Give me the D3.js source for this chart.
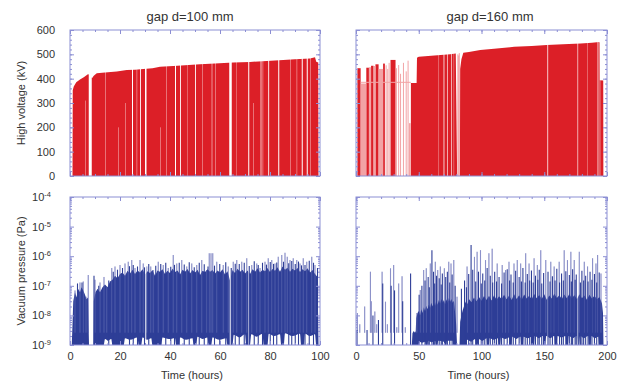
<!DOCTYPE html>
<html>
<head>
<meta charset="utf-8">
<script src="https://cdn.jsdelivr.net/npm/d3@7"></script>
<style>
body { margin: 0; background: #fff; }
</style>
</head>
<body>
<div id="chart"></div>
<script>
// ---- data (time in hours, voltage in kV, pressure in Pa) ----

// gap d=100 mm : high voltage envelope
var hvTop100 = [[1.0, 0], [1.1, 352], [1.5, 368], [2.5, 385], [4, 397], [5.5, 406], [7.3, 419], [8.8, 402], [9.5, 412],
    [10.7, 422], [14, 425], [18.7, 429], [22.7, 436], [26, 437], [29.3, 440], [33, 443], [36, 449], [41.3, 452],
    [46, 455], [52, 459], [58, 462], [65.3, 466], [72, 469], [78.7, 473], [85.3, 477], [90, 480], [96, 483],
    [98, 488], [98.5, 470], [99.3, 466], [99.4, 0]];
// breakdown pauses: [start, duration, top of the gap (null = full height)]
var hvGaps100 = [[6, 0.15, 310], [7.5, 1.2, null], [14, 0.15, null], [19.3, 0.15, 200], [22, 0.15, 300], [24.8, 0.4, null],
    [26.7, 0.15, null], [28, 0.35, null], [30, 0.6, null], [36, 0.15, 200], [38.5, 0.15, null], [42, 0.4, null],
    [44, 0.35, null], [47, 0.12, null], [50, 0.35, null], [53, 0.15, null], [56.7, 0.2, null], [58, 0.15, null],
    [63.7, 1.0, null], [66.5, 0.12, null], [71.3, 0.4, null], [73.3, 0.15, 300], [76, 0.15, null], [76.6, 0.15, null],
    [77.1, 0.15, null], [79.3, 0.35, null], [83.3, 0.4, null], [88, 0.15, null], [90.7, 0.15, null],
    [92.7, 0.4, null], [94.7, 0.4, null], [96, 0.15, null]];

// gap d=160 mm : high voltage
var hvBars160 = [[1.1, 3.7, 443], [8.2, 10.3, 445], [12, 14, 453], [15.5, 18, 459], [21.6, 23, 462], [27.5, 31.5, 477]];
var hvSparse160 = [[3.7, 8.2, 380], [10.3, 12, 447], [14, 15.5, 452], [18, 21.6, 440]];
var hvTrace160 = [[24, 455], [25.3, 440], [26.4, 465], [32.2, 443], [34, 456], [35.5, 420], [37.8, 465], [40, 430],
    [41.5, 474], [42.6, 217], [43.2, 217], [81.2, 500], [81.8, 495], [82.3, 505]];
var hvLevel160 = [[3.7, 385], [43.7, 385]];
var hvTop160 = [[43.7, 0], [43.75, 382], [48.3, 382], [48.6, 486], [50, 490], [55, 492], [60, 494], [65, 496],
    [70, 498], [75, 500], [79.5, 503], [80.6, 0], [82.8, 0], [83, 440], [84, 480], [85.5, 506], [90, 510],
    [99, 518], [110, 523], [126, 531], [140, 534], [152, 538], [165, 541], [179, 545], [188, 548], [193.8, 551],
    [194.2, 548], [194.3, 394], [197, 392], [197.1, 0]];
var hvGaps160 = [[65.9, 0.25, null], [69.8, 0.6, null], [72.5, 0.5, null], [75.7, 0.5, null], [77.9, 0.25, null],
    [152.5, 0.6, null], [176.5, 0.5, null], [184.5, 0.25, null], [192.5, 0.6, null], [194.2, 0.4, null]];

// gap d=100 mm : vacuum pressure
var vacBulk100 = [[0.7, 1e-9], [1, 5e-9], [1.3, 3e-8], [2, 6e-8], [2.6, 4e-8], [3.2, 8e-8], [4, 6e-8], [4.6, 9e-8],
    [5.3, 7e-8], [6, 5e-8], [6.6, 3.5e-8], [7.2, 4e-8], [7.6, 1e-9], [9.3, 1e-9], [9.5, 3e-8], [10.2, 6e-8],
    [11, 8e-8], [12, 6e-8], [13, 9e-8], [14, 1.1e-7], [15, 9e-8], [16, 1.4e-7], [17, 1.6e-7], [18, 2.2e-7],
    [19, 1.8e-7], [20, 2.5e-7], [21, 2.8e-7], [22, 2.2e-7], [23, 3.2e-7], [24, 2.6e-7], [25, 3.5e-7], [26, 2.5e-7],
    [27, 3.3e-7], [28, 2.8e-7], [29, 3.6e-7], [30, 2.4e-7], [31, 3.1e-7], [32, 2.7e-7], [33, 3.4e-7], [34, 2.2e-7],
    [35, 3.3e-7], [36, 3e-7], [37, 3.6e-7], [38, 2.5e-7], [39, 3.2e-7], [40, 2.7e-7], [41, 3.8e-7], [42, 2.9e-7],
    [43, 3.3e-7], [44, 2.4e-7], [45, 3.5e-7], [46, 3e-7], [47, 3.7e-7], [48, 2.6e-7], [49, 3.4e-7], [50, 2.8e-7],
    [51, 3.5e-7], [52, 2.3e-7], [53, 3.2e-7], [54, 2.9e-7], [55, 3.6e-7], [56, 3e-7], [57, 3.4e-7], [58, 2.6e-7],
    [59, 3.3e-7], [60, 2.8e-7], [61, 3.6e-7], [62, 2.4e-7], [63, 3.1e-7], [64, 1.5e-7], [65, 3.4e-7], [66, 2.7e-7],
    [67, 3.8e-7], [68, 3e-7], [69, 3.5e-7], [70, 2.6e-7], [71, 3.3e-7], [72, 2.5e-7], [73, 3.6e-7], [74, 3e-7],
    [75, 3.9e-7], [76, 2.8e-7], [77, 3.5e-7], [78, 3.1e-7], [79, 4e-7], [80, 2.9e-7], [81, 3.7e-7], [82, 3.2e-7],
    [83, 4.2e-7], [84, 3e-7], [85, 4.5e-7], [86, 3.5e-7], [87, 4.1e-7], [88, 3e-7], [89, 3.8e-7], [90, 3.3e-7],
    [91, 4e-7], [92, 2.9e-7], [93, 3.6e-7], [94, 3.1e-7], [95, 3.9e-7], [96, 2.8e-7], [97, 3.4e-7], [98, 2.5e-7],
    [99, 2e-7], [99.4, 1e-9]];
var vacFloor100 = [[0, 1e-9], [13.5, 1e-9], [14, 1.6e-9], [15.2, 1.4e-9], [16.5, 1.6e-9], [17, 1e-9], [21.5, 1e-9],
    [22, 1.7e-9], [24, 1.5e-9], [27, 1.8e-9], [27.5, 1e-9], [28.5, 1e-9], [29, 1.8e-9], [30.8, 1.5e-9],
    [32.5, 1.7e-9], [33, 1e-9], [36.5, 1e-9], [37, 1.8e-9], [39.5, 1.6e-9], [42, 1.7e-9], [42.5, 1e-9],
    [43.5, 1e-9], [44, 1.8e-9], [46.4, 1.5e-9], [49, 1.7e-9], [49.5, 1e-9], [50.5, 1e-9], [51, 1.9e-9],
    [53, 1.6e-9], [55, 1.8e-9], [55.5, 1e-9], [56.5, 1e-9], [57, 1.8e-9], [59.8, 1.5e-9], [62.5, 1.7e-9],
    [63, 1e-9], [65, 1e-9], [65.5, 2.2e-9], [67.8, 1.8e-9], [70, 2.3e-9], [70.5, 1e-9], [72, 1e-9], [72.5, 2.3e-9],
    [74.6, 1.9e-9], [77, 2.4e-9], [77.5, 1e-9], [79, 1e-9], [79.5, 2.4e-9], [81.7, 2e-9], [84, 2.3e-9],
    [84.5, 1e-9], [85.5, 1e-9], [86, 2.5e-9], [89, 2e-9], [92, 2.4e-9], [92.5, 1e-9], [93.5, 1e-9], [94, 2.4e-9],
    [96, 2e-9], [98, 2.3e-9], [98.5, 1e-9], [100, 1e-9]];
var vacGaps100 = [[7.6, 1.7], [30.1, 0.4], [63.9, 0.6], [71.3, 0.4]];
var vacPeaks100 = [[2, 7e-8], [4, 1.3e-7], [5.3, 1.4e-7], [6.4, 4.3e-8], [7.3, 2.3e-7], [10, 1.6e-7], [12, 1.3e-7],
    [13.6, 2e-7], [14.7, 9e-8], [16.7, 4e-7], [18, 4.5e-7], [20, 5e-7], [22, 5.7e-7], [23.3, 6.5e-7], [24.7, 7.4e-7],
    [26, 4e-7], [28, 7.4e-7], [29.3, 5.7e-7], [30.7, 4.5e-7], [32.3, 4.5e-7], [33.3, 3.4e-7], [35.3, 6.5e-7],
    [37.3, 5e-7], [39.3, 4e-7], [41.3, 1.1e-6], [42.7, 5.7e-7], [44.7, 7.4e-7], [46.7, 4.5e-7], [48.7, 5.7e-7],
    [50.7, 5e-7], [52.7, 7.4e-7], [54.7, 3.4e-7], [55.7, 1.25e-6], [56.4, 1.25e-6], [57.1, 1.25e-6], [58.7, 6.5e-7],
    [61.3, 5e-7], [63.3, 4.5e-7], [65.3, 6.5e-7], [66.7, 7.4e-7], [68.7, 6.5e-7], [70.7, 8.5e-7], [72.7, 5e-7],
    [74.7, 5.7e-7], [76, 4e-7], [78, 6.5e-7], [79.3, 8.5e-7], [80.7, 7.4e-7], [82, 5.7e-7], [83.3, 9.5e-7],
    [84.7, 1.1e-6], [86, 1.3e-6], [86.9, 9.5e-7], [88, 7.4e-7], [89.3, 8.5e-7], [90.7, 7.4e-7], [92, 5.7e-7],
    [93.3, 8.5e-7], [94.7, 6.5e-7], [96.7, 9.5e-7], [98, 5e-7]];
var vacSpikes100 = [[3, 1.2e-7], [4.8, 1.3e-7], [9.6, 2.2e-7], [11.5, 1e-7], [15.5, 1.5e-7], [17.3, 3e-7], [19, 3.5e-7],
    [21, 4e-7], [23.8, 4.6e-7], [25.3, 5e-7], [27, 4.5e-7], [29.8, 4.2e-7], [31.5, 5.5e-7], [34.3, 4.8e-7],
    [36.3, 5.5e-7], [38.3, 6e-7], [40.3, 4.4e-7], [41.8, 5.1e-7], [43.7, 6e-7], [45.7, 5.2e-7], [47.7, 6.3e-7],
    [49.7, 4.2e-7], [51.7, 6e-7], [53.7, 5.3e-7], [55.2, 4.5e-7], [57.8, 4.8e-7], [59.9, 5.5e-7], [62.3, 6.2e-7],
    [64.5, 4e-7], [66.1, 5.6e-7], [67.7, 5.4e-7], [69.7, 6e-7], [71.7, 4.7e-7], [73.7, 6.8e-7], [75.3, 5e-7],
    [77, 6e-7], [78.6, 5.2e-7], [80.1, 6.4e-7], [81.4, 5.5e-7], [82.7, 6.1e-7], [85.4, 6.5e-7], [87.5, 5.8e-7],
    [88.7, 6.9e-7], [90.1, 5.4e-7], [91.4, 6.6e-7], [92.6, 4.9e-7], [94, 5e-7], [95.7, 7e-7], [97.4, 6e-7],
    [99, 4e-7]];

// gap d=160 mm : vacuum pressure
var vacBulk160 = [[44.5, 1e-9], [45, 2.5e-9], [46, 3e-9], [47, 2.6e-9], [47.6, 3e-9], [48, 8e-9], [49, 1.2e-8],
    [50, 1.4e-8], [51, 1e-8], [52, 1.6e-8], [53, 1.2e-8], [54, 1.9e-8], [55, 1.4e-8], [56, 2.1e-8], [57, 1.6e-8],
    [58, 2.3e-8], [59, 1.8e-8], [60, 2.7e-8], [61, 2e-8], [62, 2.8e-8], [63, 2.1e-8], [64, 3.1e-8], [65, 2.3e-8],
    [66, 3.3e-8], [67, 2.5e-8], [68, 3.6e-8], [69, 2.7e-8], [70, 3.3e-8], [71, 2.4e-8], [72, 3.5e-8], [73, 2.6e-8],
    [74, 3.9e-8], [75, 2.9e-8], [76, 3.6e-8], [77, 2.7e-8], [78, 3.1e-8], [79, 1.2e-8], [79.8, 5e-9], [80.5, 1e-9],
    [82.5, 1e-9], [83, 6e-9], [84, 1e-8], [85, 1.5e-8], [86, 2e-8], [87, 2.6e-8], [88, 3.2e-8], [89, 2.4e-8],
    [90, 3.6e-8], [92, 2.8e-8], [94, 4e-8], [96, 3e-8], [98, 4.2e-8], [100, 3.1e-8], [102, 4.5e-8], [104, 3.3e-8],
    [106, 4.6e-8], [108, 3.2e-8], [110, 4.8e-8], [112, 3.4e-8], [114, 4.4e-8], [116, 3.6e-8], [118, 5e-8],
    [120, 3.5e-8], [122, 4.7e-8], [124, 3.3e-8], [126, 5.2e-8], [128, 3.6e-8], [130, 4.8e-8], [132, 3.4e-8],
    [134, 5.1e-8], [136, 3.7e-8], [138, 4.6e-8], [140, 3.5e-8], [142, 5.3e-8], [144, 3.8e-8], [146, 4.9e-8],
    [148, 3.6e-8], [150, 5.2e-8], [152, 3.4e-8], [154, 4.7e-8], [156, 3.7e-8], [158, 5.4e-8], [160, 3.9e-8],
    [162, 4.8e-8], [164, 3.6e-8], [166, 5.1e-8], [168, 3.8e-8], [170, 5.3e-8], [172, 3.7e-8], [174, 4.9e-8],
    [176, 3.5e-8], [178, 5.2e-8], [180, 3.8e-8], [182, 4.7e-8], [184, 3.4e-8], [186, 5e-8], [188, 3.7e-8],
    [190, 4.6e-8], [192, 3.5e-8], [194, 4.2e-8], [196, 2.5e-8], [196.8, 1.2e-8], [197.2, 1e-9]];
var vacFloor160 = [[47.5, 1e-9], [50, 1e-9], [50.5, 1.3e-9], [52.8, 1.2e-9], [55, 1.3e-9], [55.5, 1e-9], [57, 1e-9],
    [57.5, 1.4e-9], [60.2, 1.25e-9], [63, 1.4e-9], [63.5, 1e-9], [65, 1e-9], [65.5, 1.4e-9], [70, 1.3e-9],
    [70.5, 1e-9], [72, 1e-9], [72.5, 1.4e-9], [77, 1.4e-9], [77.5, 1e-9], [88, 1e-9], [88.5, 1.5e-9],
    [91.7, 1.3e-9], [95, 1.6e-9], [95.5, 1e-9], [97, 1e-9], [97.5, 1.6e-9], [100.8, 1.4e-9], [104, 1.7e-9],
    [104.5, 1e-9], [106, 1e-9], [106.5, 1.7e-9], [109.7, 1.5e-9], [113, 1.7e-9], [113.5, 1e-9], [115, 1e-9],
    [115.5, 1.8e-9], [118.8, 1.6e-9], [122, 1.8e-9], [122.5, 1e-9], [124, 1e-9], [124.5, 1.9e-9], [127.7, 1.6e-9],
    [131, 1.9e-9], [131.5, 1e-9], [133, 1e-9], [133.5, 1.9e-9], [136.8, 1.7e-9], [140, 1.9e-9], [140.5, 1e-9],
    [142, 1e-9], [142.5, 2e-9], [145.6, 1.7e-9], [149, 2e-9], [149.5, 1e-9], [151, 1e-9], [151.5, 2e-9],
    [154.8, 1.7e-9], [158, 2e-9], [158.5, 1e-9], [160, 1e-9], [160.5, 2e-9], [163.7, 1.8e-9], [167, 2e-9],
    [167.5, 1e-9], [169, 1e-9], [169.5, 2e-9], [172.8, 1.7e-9], [176, 2e-9], [176.5, 1e-9], [178, 1e-9],
    [178.5, 2e-9], [181.6, 1.7e-9], [185, 2e-9], [185.5, 1e-9], [187, 1e-9], [187.5, 2e-9], [190.2, 1.7e-9],
    [193, 1.9e-9], [193.5, 1e-9], [200, 1e-9]];
var vacGaps160 = [[152.5, 0.6], [176.5, 0.5]];
var vacPeaks160 = [[1.1, 1.2e-8], [3, 5e-9], [6.9, 2e-8], [11.5, 3e-7], [12.2, 3e-8], [15, 1.35e-8], [16.5, 5e-9],
    [20.8, 3e-7], [23.5, 2.9e-8], [25, 5e-9], [27.5, 3.9e-7], [30, 5e-7], [32.5, 4e-9], [34, 1.2e-7], [36.7, 2.1e-7],
    [39.3, 4e-9], [48.5, 1.2e-8], [51.2, 7.2e-8], [53.9, 3.4e-7], [56, 3.9e-7], [59.2, 5.7e-7], [63.2, 6.5e-7],
    [65.1, 3.4e-7], [67.2, 4.5e-7], [70.4, 3.9e-7], [73.9, 6.5e-7], [75.7, 5.7e-7], [77.9, 7.4e-7], [80.5, 4.3e-8],
    [88.5, 4.5e-7], [94.4, 9.5e-7], [96.5, 1.4e-6], [99.2, 1.6e-6], [103.2, 7.4e-7], [105.9, 1.26e-6],
    [108.5, 1.8e-6], [112.5, 5.7e-7], [116.5, 5e-7], [119.2, 3.4e-7], [121.9, 6.5e-7], [125.9, 5.7e-7],
    [128.5, 7.4e-7], [131.2, 5.7e-7], [135.2, 1.26e-6], [137.9, 5.7e-7], [141.9, 8.5e-7], [144.5, 5e-7],
    [147.2, 1.6e-6], [151.2, 7.4e-7], [155.2, 6.5e-7], [157.9, 4.5e-7], [161.9, 6.5e-7], [165.9, 1.6e-6],
    [168.5, 7.4e-7], [171.2, 1.4e-6], [173.9, 7.4e-7], [177.9, 1.4e-6], [181.9, 6.5e-7], [184.5, 4.5e-7],
    [188.5, 8.5e-7], [191.2, 5.7e-7], [192.5, 1.1e-6], [195.2, 2.6e-7]];
var vacSpikes160 = [[0.8, 3.2e-9], [8.8, 3.2e-9], [13.5, 1e-8], [17.9, 7e-9], [21.3, 1.2e-7], [28, 1e-7],
    [30.7, 7e-8], [37.2, 3e-8], [43.5, 2.6e-7], [50.3, 5e-8], [52.5, 1e-7], [55, 1.5e-7], [57.5, 2e-7],
    [58.4, 9e-8], [60.5, 1.6e-6], [61.8, 3e-7], [62.7, 1.2e-7], [64.2, 2.2e-7], [66.3, 1.8e-7], [67.9, 1.1e-7],
    [68.8, 2.6e-7], [71.5, 2e-7], [72.8, 3e-7], [74.7, 1.3e-7], [76.6, 2.4e-7], [79, 1e-7], [84, 8e-8],
    [86.5, 1.5e-7], [88, 9e-8], [89.8, 2.5e-7], [91.7, 2.4e-6], [93, 3.5e-7], [95.4, 1.4e-7], [97.6, 3e-7],
    [99.8, 1.2e-7], [101, 2.6e-7], [102.6, 1.5e-7], [104.5, 4e-7], [107, 2.2e-7], [108.9, 1.3e-7], [110.5, 3e-7],
    [112, 1.4e-7], [114, 2e-7], [116, 1.2e-7], [118, 2.8e-7], [120.5, 3.6e-7], [122.4, 1.5e-7], [123.5, 2.4e-7],
    [125.3, 1.3e-7], [127.2, 3.2e-7], [130, 2e-7], [131.8, 1.4e-7], [133, 4e-7], [134.8, 1.3e-7], [136.5, 2.5e-7],
    [138.4, 1.5e-7], [139.8, 3.3e-7], [141.2, 1.3e-7], [143, 2.2e-7], [144.9, 1.6e-7], [146, 3.5e-7],
    [148, 1.2e-7], [149.5, 2.7e-7], [153, 3e-7], [154.6, 1.4e-7], [156.5, 2.1e-7], [158.6, 1.5e-7], [160, 3.8e-7],
    [162.2, 1.3e-7], [163.8, 2.6e-7], [165.2, 1.5e-7], [167.2, 3.1e-7], [170, 2.3e-7], [171.6, 1.4e-7],
    [172.6, 3.6e-7], [174.6, 1.6e-7], [175.5, 2.4e-7], [178.8, 1.3e-7], [180, 3.2e-7], [181.4, 1.5e-7],
    [183, 2.2e-7], [184.9, 1.4e-7], [186.5, 3e-7], [188, 1.6e-7], [190, 2.5e-7], [191.8, 1.3e-7], [193.8, 2.8e-7]];

var hvTicks = [0, 100, 200, 300, 400, 500, 600];
var vacTicks = [1e-9, 1e-8, 1e-7, 1e-6, 1e-5, 1e-4];
var titles = ["gap d=100 mm", "gap d=160 mm"];

// ---- drawing ----
var width = 619, height = 383;
var red = "#dc1f27", pink = "#f2a3a5", blue = "#2e3e97", blueLight = "#8c91c9", frame = "#8c8fd4", ink = "#333";

var svg = d3.select("#chart").append("svg")
    .attr("width", width)
    .attr("height", height)
    .style("font-family", '"Liberation Sans", Arial, sans-serif');

var x100 = d3.scaleLinear().domain([0, 100]).range([70, 320]);
var x160 = d3.scaleLinear().domain([0, 200]).range([356, 607]);
var yHV = d3.scaleLinear().domain([0, 600]).range([176, 30]);
var yVac = d3.scaleLog().domain([1e-9, 1e-4]).range([345, 197]);

var clipN = 0;
function panel(x, y) {
    var id = "clip-" + (clipN++);
    var r = x.range(), ry = y.range();
    svg.append("clipPath").attr("id", id).append("rect")
        .attr("x", r[0]).attr("y", ry[1]).attr("width", r[1] - r[0]).attr("height", ry[0] - ry[1]);
    return svg.append("g").attr("clip-path", "url(#" + id + ")");
}

function drawHV(x, top, gaps) {
    var g = panel(x, yHV);
    var area = d3.area()
        .x(d => x(d[0]))
        .y0(yHV(0))
        .y1(d => yHV(d[1]));
    g.append("path").attr("d", area(top)).attr("fill", red);
    g.selectAll("rect.gap").data(gaps).join("rect")
        .attr("class", "gap")
        .attr("x", d => x(d[0]))
        .attr("width", d => x(d[0] + d[1]) - x(d[0]))
        .attr("y", d => d[2] === null ? yHV(600) : yHV(d[2]))
        .attr("height", d => yHV(0) - (d[2] === null ? yHV(600) : yHV(d[2])))
        .attr("fill", "#fff");
    return g;
}

function drawVac(x, bulk, floor, gaps, peaks, spikes) {
    var g = panel(x, yVac);
    var area = d3.area()
        .x(d => x(d[0]))
        .y0(yVac(1e-9))
        .y1(d => yVac(d[1]));
    var peakLine = sel => sel
        .attr("x1", d => x(d[0])).attr("x2", d => x(d[0]))
        .attr("y1", yVac(2.6e-9)).attr("y2", d => yVac(d[1]));
    g.selectAll("line.peak").data(peaks).join("line")
        .attr("class", "peak").call(peakLine)
        .attr("stroke", blueLight).attr("stroke-width", 1.1);
    g.append("path").attr("d", area(bulk)).attr("fill", blue);
    // the same peaks show faintly as light streaks through the dense part
    g.selectAll("line.streak").data(peaks).join("line")
        .attr("class", "streak").call(peakLine)
        .attr("stroke", blueLight).attr("stroke-width", 0.8).attr("stroke-opacity", 0.45);
    g.append("path").attr("d", area.curve(d3.curveMonotoneX)(floor)).attr("fill", "#fff");
    g.selectAll("rect.gap").data(gaps).join("rect")
        .attr("class", "gap")
        .attr("x", d => x(d[0]))
        .attr("width", d => x(d[0] + d[1]) - x(d[0]))
        .attr("y", yVac(1e-4))
        .attr("height", yVac(1e-9) - yVac(1e-4))
        .attr("fill", "#fff");
    g.selectAll("line.spike").data(spikes).join("line")
        .attr("class", "spike")
        .attr("x1", d => x(d[0])).attr("x2", d => x(d[0]))
        .attr("y1", yVac(1e-9)).attr("y2", d => yVac(d[1]))
        .attr("stroke", blue).attr("stroke-width", 1.1);
    return g;
}

function frameAxes(x, y, xMajor, xMinor, yMajor, yMinor, xLabels, yFormat, yPad) {
    var r = x.range(), ry = y.range();
    var ax = svg.append("g").attr("color", frame);
    var strip = g => g.call(g => g.select(".domain").remove());

    [[d3.axisBottom, ry[0]], [d3.axisTop, ry[1]]].forEach(function (a) {
        ax.append("g").attr("transform", `translate(0,${a[1]})`)
            .call(a[0](x).tickValues(xMinor).tickSize(-2).tickFormat("")).call(strip);
        ax.append("g").attr("transform", `translate(0,${a[1]})`)
            .call(a[0](x).tickValues(xMajor).tickSize(-4).tickFormat("")).call(strip);
    });
    [[d3.axisLeft, r[0]], [d3.axisRight, r[1]]].forEach(function (a) {
        ax.append("g").attr("transform", `translate(${a[1]},0)`)
            .call(a[0](y).tickValues(yMinor).tickSize(-2).tickFormat("")).call(strip);
        ax.append("g").attr("transform", `translate(${a[1]},0)`)
            .call(a[0](y).tickValues(yMajor).tickSize(-4).tickFormat("")).call(strip);
    });
    ax.append("rect")
        .attr("x", r[0]).attr("y", ry[1])
        .attr("width", r[1] - r[0]).attr("height", ry[0] - ry[1])
        .attr("fill", "none").attr("stroke", frame).attr("stroke-width", 1);

    if (xLabels) {
        svg.append("g").attr("transform", `translate(0,${ry[0]})`)
            .call(d3.axisBottom(x).tickValues(xMajor).tickSize(0).tickPadding(7))
            .call(strip)
            .selectAll("text").attr("fill", ink).attr("font-size", 11);
    }
    if (yFormat) {
        var ly = svg.append("g").attr("transform", `translate(${r[0]},0)`)
            .call(d3.axisLeft(y).tickValues(yMajor).tickSize(0).tickPadding(yPad).tickFormat(yFormat === "log" ? () => "" : d3.format("d")))
            .call(strip);
        ly.selectAll("text").attr("fill", ink).attr("font-size", 11);
        if (yFormat === "log") {
            ly.selectAll(".tick text").each(function (d) {
                var t = d3.select(this);
                t.append("tspan").text("10");
                t.append("tspan").attr("dy", "-0.5em").attr("font-size", 7.5).text(Math.round(Math.log10(d)));
            });
        }
    }
}

// top row: high voltage
drawHV(x100, hvTop100, hvGaps100);

var g160 = drawHV(x160, hvTop160, hvGaps160);
g160.selectAll("rect.bar").data(hvBars160).join("rect")
    .attr("class", "bar")
    .attr("x", d => x160(d[0])).attr("width", d => x160(d[1]) - x160(d[0]))
    .attr("y", d => yHV(d[2])).attr("height", d => yHV(0) - yHV(d[2]))
    .attr("fill", red);
g160.selectAll("rect.sparse").data(hvSparse160).join("rect")
    .attr("class", "sparse")
    .attr("x", d => x160(d[0])).attr("width", d => x160(d[1]) - x160(d[0]))
    .attr("y", d => yHV(d[2])).attr("height", d => yHV(0) - yHV(d[2]))
    .attr("fill", pink);
g160.selectAll("line.trace").data(hvTrace160).join("line")
    .attr("class", "trace")
    .attr("x1", d => x160(d[0])).attr("x2", d => x160(d[0]))
    .attr("y1", yHV(0)).attr("y2", d => yHV(d[1]))
    .attr("stroke", pink).attr("stroke-width", 1);
g160.append("path")
    .attr("d", d3.line().x(d => x160(d[0])).y(d => yHV(d[1]))(hvLevel160))
    .attr("stroke", pink).attr("fill", "none");

// bottom row: vacuum pressure
drawVac(x100, vacBulk100, vacFloor100, vacGaps100, vacPeaks100, vacSpikes100);
drawVac(x160, vacBulk160, vacFloor160, vacGaps160, vacPeaks160, vacSpikes160);

var hvMinor = d3.range(0, 601, 20);
var vacMinor = [];
d3.range(-9, -4).forEach(e => d3.range(2, 10).forEach(m => vacMinor.push(m * Math.pow(10, e))));

frameAxes(x100, yHV, d3.range(0, 101, 20), d3.range(0, 101, 5), hvTicks, hvMinor, false, "d", 15);
frameAxes(x160, yHV, d3.range(0, 201, 50), d3.range(0, 201, 10), hvTicks, hvMinor, false, null);
frameAxes(x100, yVac, d3.range(0, 101, 20), d3.range(0, 101, 5), vacTicks, vacMinor, true, "log", 19);
frameAxes(x160, yVac, d3.range(0, 201, 50), d3.range(0, 201, 10), vacTicks, vacMinor, true, null);

// titles and axis names
svg.selectAll("text.title").data(titles).join("text")
    .attr("class", "title")
    .attr("x", (d, i) => i === 0 ? 190 : 490)
    .attr("y", 21)
    .attr("text-anchor", "middle")
    .attr("font-size", 13)
    .attr("fill", ink)
    .text(d => d);

[["High voltage (kV)", 103], ["Vacuum pressure (Pa)", 271]].forEach(function (l) {
    svg.append("text")
        .attr("transform", `translate(25,${l[1]}) rotate(-90)`)
        .attr("text-anchor", "middle")
        .attr("font-size", 11)
        .attr("fill", ink)
        .text(l[0]);
});

[x100, x160].forEach(function (x) {
    var r = x.range();
    svg.append("text")
        .attr("x", (r[0] + r[1]) / 2 - 3)
        .attr("y", 379)
        .attr("text-anchor", "middle")
        .attr("font-size", 11)
        .attr("fill", ink)
        .text("Time (hours)");
});
</script>
</body>
</html>
